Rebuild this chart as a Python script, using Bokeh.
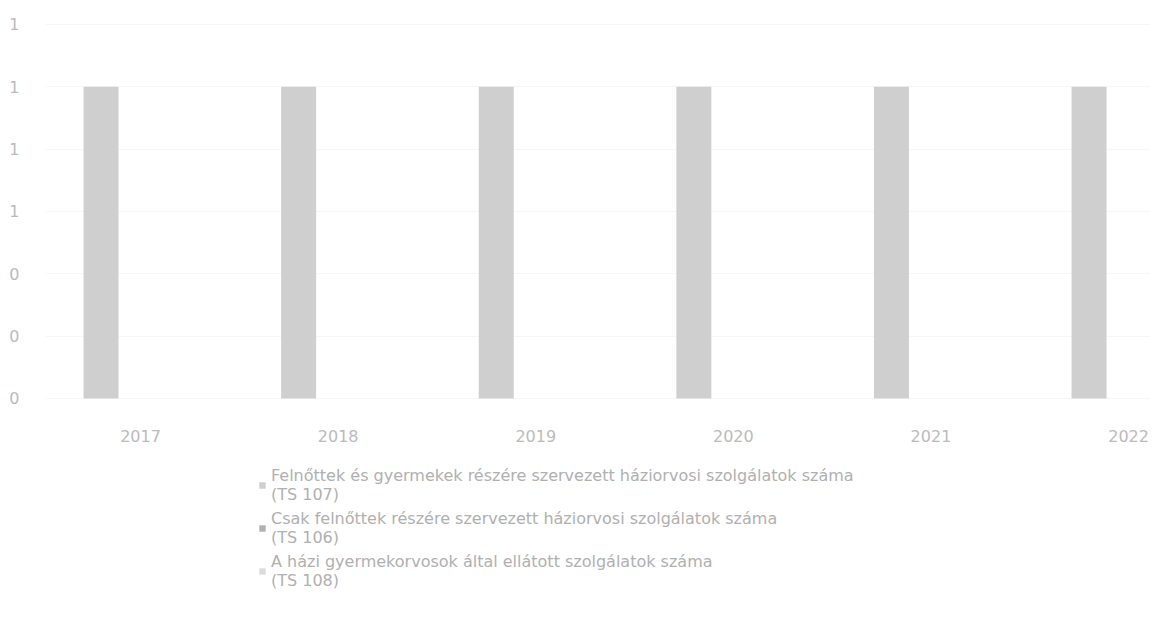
from bokeh.plotting import figure
from bokeh.models import (ColumnDataSource, Range1d, FixedTicker, NumeralTickFormatter,
                          Legend, LegendItem)
from bokeh.core.properties import value
from bokeh.transform import dodge
from bokeh.embed import file_html
from bokeh.resources import INLINE

years = [2017, 2018, 2019, 2020, 2021, 2022]
year_labels = ["2017", "2018", "2019", "2020", "2021", "2022"]
ts107 = [1, 1, 1, 1, 1, 1]
ts106 = [0, 0, 0, 0, 0, 0]
ts108 = [0, 0, 0, 0, 0, 0]
labels = [
    "Felnőttek és gyermekek részére szervezett háziorvosi szolgálatok száma\n(TS 107)",
    "Csak felnőttek részére szervezett háziorvosi szolgálatok száma\n(TS 106)",
    "A házi gyermekorvosok által ellátott szolgálatok száma\n(TS 108)",
]
colors = ["#cfcfcf", "#b0b0b0", "#dcdcdc"]
y_ticks = [0, 0.2, 0.4, 0.6, 0.8, 1.0, 1.2]

src = ColumnDataSource(dict(year=years, s1=ts107, s2=ts106, s3=ts108))
lab_src = ColumnDataSource(dict(year=years, txt=year_labels, y=[-0.119] * len(years)))

FONT = "DejaVu Sans"
TXT = "#bbbbbb"

p = figure(width=1150, height=640, output_backend="svg", toolbar_location=None,
           x_range=Range1d(2016.519, 2022.111), y_range=Range1d(-0.7636, 1.219),
           min_border_left=45, min_border_right=0, min_border_top=18,
           min_border_bottom=4)
p.outline_line_color = None
p.background_fill_color = "white"
p.border_fill_color = "white"

w = 0.177
r1 = p.vbar(x=dodge("year", -0.2, range=p.x_range), top="s1", width=w, source=src,
            fill_color=colors[0], line_color=None)
r2 = p.vbar(x=dodge("year", 0.0, range=p.x_range), top="s2", width=w, source=src,
            fill_color=colors[1], line_color=None)
r3 = p.vbar(x=dodge("year", 0.2, range=p.x_range), top="s3", width=w, source=src,
            fill_color=colors[2], line_color=None)

p.text(x="year", y="y", text="txt", source=lab_src, text_align="center",
       text_baseline="middle", text_font=value(FONT), text_font_size="16px",
       text_color=TXT)

p.xaxis.visible = False
p.xgrid.visible = False
p.ygrid.grid_line_color = "#f6f6f6"
p.ygrid.ticker = FixedTicker(ticks=y_ticks)

p.yaxis.ticker = FixedTicker(ticks=y_ticks)
p.yaxis.formatter = NumeralTickFormatter(format="0")
p.yaxis.axis_line_color = None
p.yaxis.major_tick_line_color = None
p.yaxis.minor_tick_line_color = None
p.yaxis.major_label_standoff = 20
p.yaxis.major_label_text_font = FONT
p.yaxis.major_label_text_font_size = "16px"
p.yaxis.major_label_text_color = TXT

legend = Legend(items=[LegendItem(label=labels[0], renderers=[r1]),
                       LegendItem(label=labels[1], renderers=[r2]),
                       LegendItem(label=labels[2], renderers=[r3])],
                location=(213, 46), orientation="vertical",
                label_text_font=FONT, label_text_font_size="16px",
                label_text_color="#b0b0b0", label_text_line_height=1.05,
                glyph_width=8, glyph_height=8,
                spacing=5, padding=0, margin=0, border_line_color=None,
                background_fill_alpha=0, label_standoff=5)
p.add_layout(legend, "center")

open("out.html", "w").write(file_html(p, INLINE))
